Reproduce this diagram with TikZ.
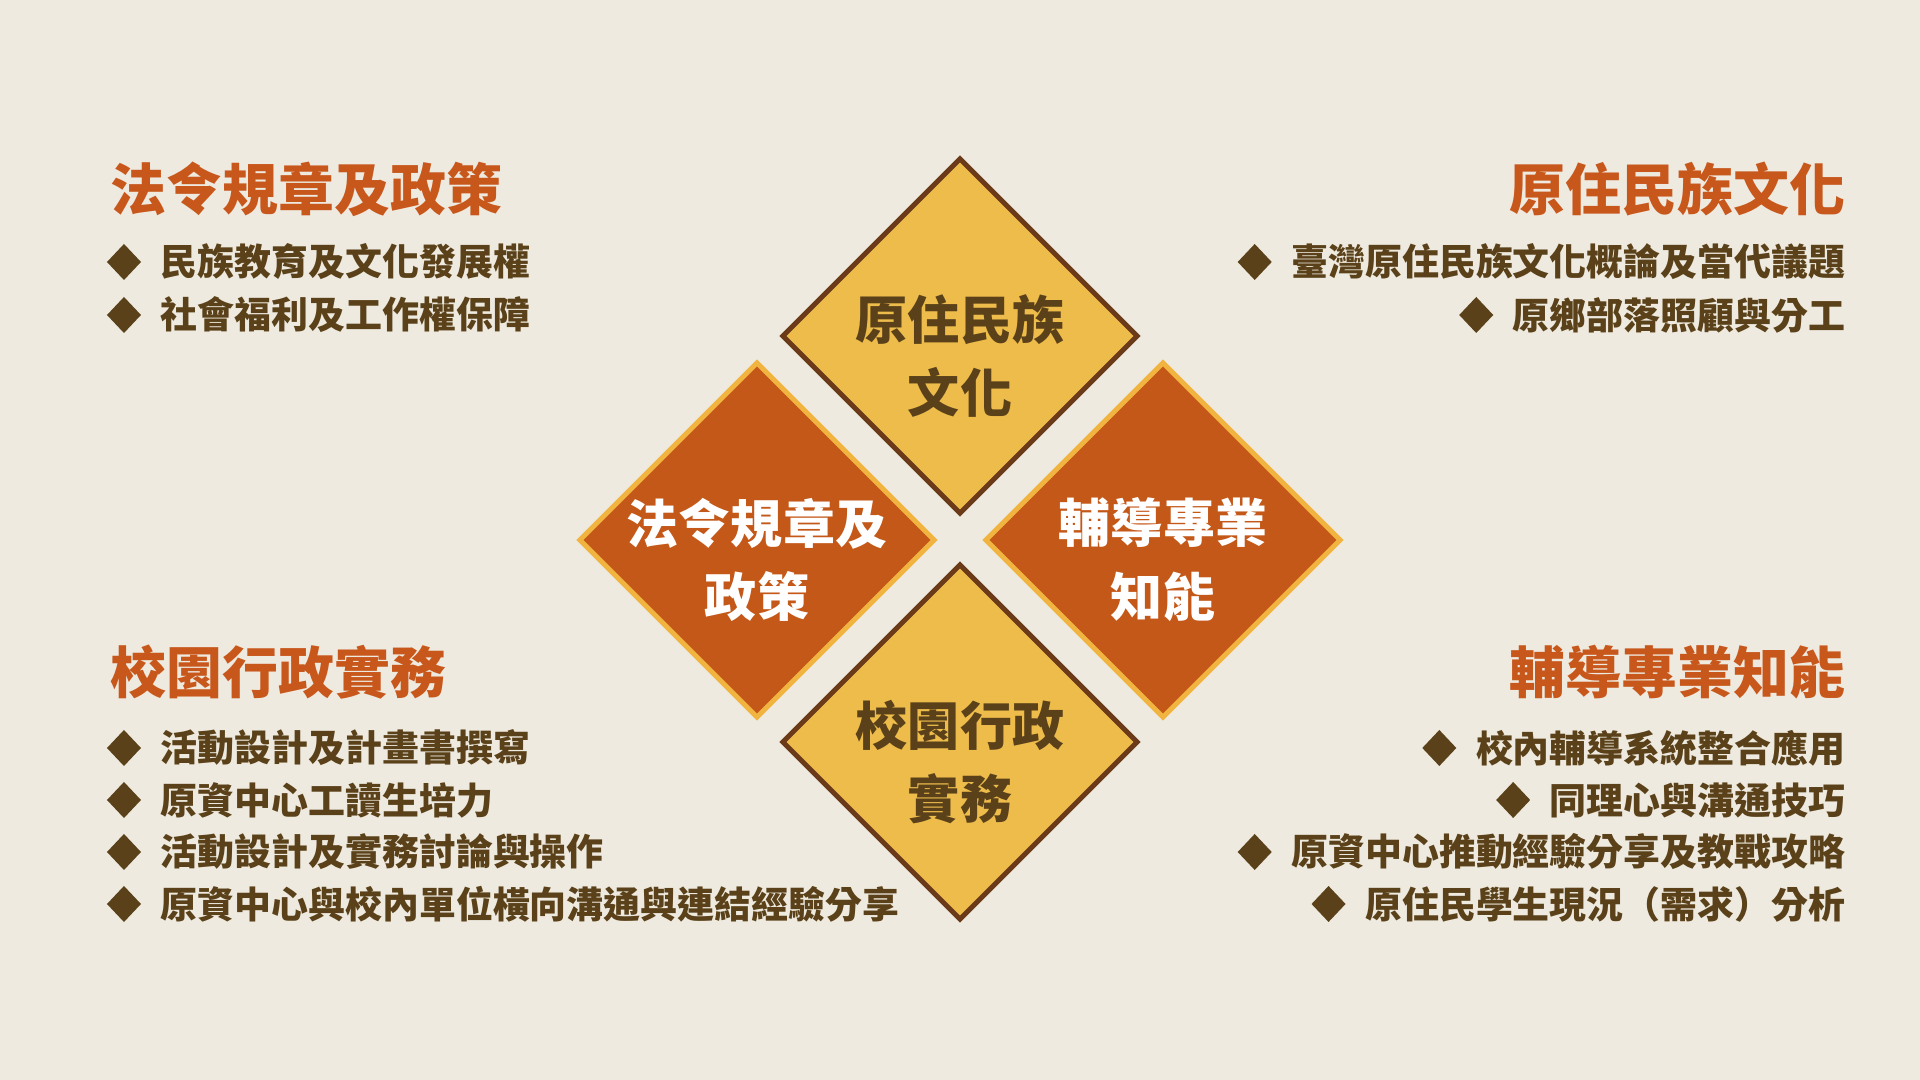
\documentclass[tikz,border=0pt]{standalone}
\usepackage{fontspec}
\newfontfamily\cjk{Noto Sans CJK TC}[BoldFont={Noto Sans CJK TC Black}]
\usetikzlibrary{shapes.geometric, positioning}

\definecolor{paper}{HTML}{EEEADF}
\definecolor{gold}{HTML}{EEBC4B}
\definecolor{rust}{HTML}{C45818}
\definecolor{bark}{HTML}{6B3A18}
\definecolor{amber}{HTML}{F2B440}
\definecolor{ink}{HTML}{5A4119}
\definecolor{head}{HTML}{C8571C}

\tikzset{
  tile/.style={diamond, aspect=1, minimum width=3.56cm, minimum height=3.56cm, inner sep=0, line width=1.4pt},
  goldtile/.style={tile, fill=gold, draw=bark},
  rusttile/.style={tile, fill=rust, draw=amber},
  tiletext/.style={align=center, inner sep=0, font=\cjk\bfseries\fontsize{14.8}{21}\selectfont},
  heading/.style={inner sep=0, text=head, font=\cjk\bfseries\fontsize{15.9}{18}\selectfont},
  item/.style={inner sep=0, text=ink, font=\cjk\bfseries\fontsize{10.5}{12}\selectfont},
  bullet/.style={diamond, fill=ink, inner sep=0, outer sep=0, minimum width=0.34cm, minimum height=0.36cm},
}

\begin{document}
\begin{tikzpicture}[x=0.01cm, y=-0.01cm]
\fill[paper] (0,0) rectangle (1920,1080); % page, 1 unit = 1 px

% the four tiles
\node[goldtile] (culture) at (960,336) {};
\node[rusttile] (law) at (757,540) {};
\node[rusttile] (guide) at (1163,540) {};
\node[goldtile] (campus) at (960,742) {};
\node[tiletext, text=ink] (culturetext) at ([yshift=-0.2cm]culture.center) {原住民族\\文化};
\node[tiletext, text=white] (lawtext) at ([yshift=-0.2cm]law.center) {法令規章及\\政策};
\node[tiletext, text=white] (guidetext) at ([yshift=-0.2cm]guide.center) {輔導專業\\知能};
\node[tiletext, text=ink] (campustext) at ([yshift=-0.2cm]campus.center) {校園行政\\實務};

% left column
\node[heading, anchor=west] (lawhead) at (110,189) {法令規章及政策};
\foreach \t [count=\i] in {民族教育及文化發展權, 社會福利及工作權保障} {
  \node[item, anchor=west] (law\i) at (160,{209+53*\i}) {\t};
  \node[bullet, left=0.19cm of law\i] (lawdot\i) {};
}
\node[heading, anchor=west] (campushead) at (110,672) {校園行政實務};
\foreach \t [count=\i] in {活動設計及計畫書撰寫, 原資中心工讀生培力, 活動設計及實務討論與操作, 原資中心與校內單位橫向溝通與連結經驗分享} {
  \node[item, anchor=west] (campus\i) at (160,{696+52*\i}) {\t};
  \node[bullet, left=0.19cm of campus\i] (campusdot\i) {};
}

% right column
\node[heading, anchor=east] (culturehead) at (1846,189) {原住民族文化};
\foreach \t [count=\i] in {臺灣原住民族文化概論及當代議題, 原鄉部落照顧與分工} {
  \node[item, anchor=east] (culture\i) at (1846,{209+53*\i}) {\t};
  \node[bullet, left=0.19cm of culture\i] (culturedot\i) {};
}
\node[heading, anchor=east] (guidehead) at (1846,672) {輔導專業知能};
\foreach \t [count=\i] in {校內輔導系統整合應用, 同理心與溝通技巧, 原資中心推動經驗分享及教戰攻略, 原住民學生現況（需求）分析} {
  \node[item, anchor=east] (guide\i) at (1846,{696+52*\i}) {\t};
  \node[bullet, left=0.19cm of guide\i] (guidedot\i) {};
}
\end{tikzpicture}
\end{document}
